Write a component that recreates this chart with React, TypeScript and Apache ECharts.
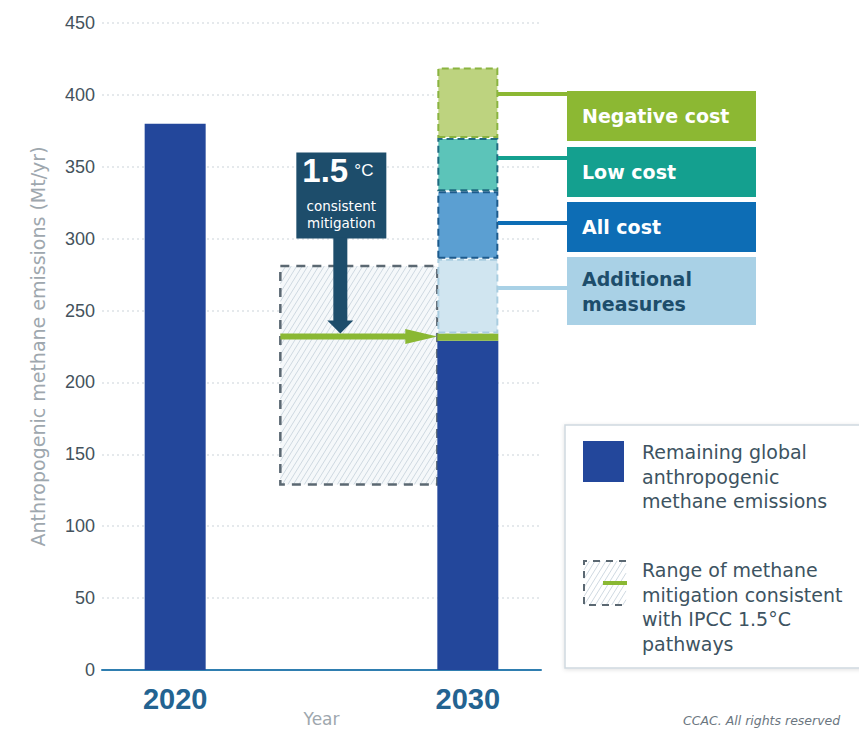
import React, { useEffect, useRef } from "react";
import * as echarts from "echarts";

const years = ["2020", "", "2030"];
const remaining = [380, "-", 229];
const pathwayLevel = ["-", "-", 5];
const additionalMeasures = ["-", "-", 52];
const allCost = ["-", "-", 47];
const lowCost = ["-", "-", 37];
const negativeCost = ["-", "-", 49];
const yMin = 0;
const yMax = 450;
const yStep = 50;
// 1.5°C consistent mitigation range for 2030: [category, low, high, median]
const mitigationRange = [["2030", 129, 281, 232]];

const NUM_FONT = "'Liberation Sans', Arial, Helvetica, sans-serif";
const TXT_FONT = "'DejaVu Sans', Verdana, sans-serif";
const BAR_W = 61;
const GREEN = "#8ab833";
const NAVY = "#1d4d6b";

function hatch(x: number, y: number, w: number, h: number, step: number, k: number) {
  const segs: number[][] = [];
  for (let c = x - h * k; c < x + w; c += step) {
    const t0 = Math.max(0, (x - c) / k);
    const t1 = Math.min(h, (x + w - c) / k);
    if (t1 > t0) segs.push([c + t0 * k, y + h - t0, c + t1 * k, y + h - t1]);
  }
  return segs;
}

function hatchLines(x: number, y: number, w: number, h: number, stroke: string) {
  return hatch(x, y, w, h, 5.5, 0.62).map((s) => ({
    type: "line",
    shape: { x1: s[0], y1: s[1], x2: s[2], y2: s[3] },
    style: { stroke, lineWidth: 0.9 },
    silent: true,
  }));
}

export default function App() {
  const ref = useRef<HTMLDivElement>(null);
  useEffect(() => {
    document.body.style.margin = "0";
    const chart = echarts.init(ref.current!, null, { renderer: "svg" });

    const renderRange = (params: any, api: any) => {
      const idx = api.value(0);
      const lo = api.value(1);
      const hi = api.value(2);
      const mid = api.value(3);
      const [cx, yLo] = api.coord([idx, lo]);
      const yHi = api.coord([idx, hi])[1];
      const yMid = api.coord([idx, mid])[1];
      const right = cx - BAR_W / 2;
      const left = right - 157;
      const w = right - left;
      const h = yLo - yHi;
      const boxL = left + 16;
      const boxT = yMid - 184;
      const boxW = 90;
      const boxH = 86;
      const stemX = boxL + 37;
      const children: any[] = [
        { type: "rect", shape: { x: left, y: yHi, width: w, height: h }, style: { fill: "#f5f8fa" } },
        ...hatchLines(left, yHi, w, h, "#c9d5de"),
        {
          type: "rect",
          shape: { x: left, y: yHi, width: w, height: h },
          style: { fill: "none", stroke: "#5b6872", lineWidth: 2.5, lineDash: [9, 7] },
        },
        // green arrow
        { type: "rect", shape: { x: left, y: yMid - 3, width: w - 28, height: 6 }, style: { fill: GREEN } },
        {
          type: "polygon",
          shape: { points: [[right - 32, yMid - 7.5], [right, yMid], [right - 32, yMid + 7.5]] },
          style: { fill: GREEN },
        },
        // 1.5°C box
        { type: "rect", shape: { x: boxL, y: boxT, width: boxW, height: boxH }, style: { fill: NAVY } },
        { type: "rect", shape: { x: stemX, y: boxT + boxH - 1, width: 14, height: yMid - 15 - (boxT + boxH) + 1 }, style: { fill: NAVY } },
        {
          type: "polygon",
          shape: { points: [[stemX - 6, yMid - 16], [stemX + 20, yMid - 16], [stemX + 7, yMid - 3]] },
          style: { fill: NAVY },
        },
        {
          type: "text",
          style: {
            text: "1.5", x: boxL + 6, y: boxT + 35, fill: "#ffffff",
            fontSize: 33, fontWeight: "bold", fontFamily: NUM_FONT, align: "left", verticalAlign: "bottom",
          },
        },
        {
          type: "text",
          style: {
            text: "°C", x: boxL + 58, y: boxT + 10, fill: "#ffffff",
            fontSize: 17, fontFamily: NUM_FONT, align: "left", verticalAlign: "top",
          },
        },
        {
          type: "text",
          style: {
            text: "consistent", x: boxL + boxW / 2, y: boxT + 54, fill: "#ffffff",
            fontSize: 13.5, fontFamily: TXT_FONT, align: "center", verticalAlign: "middle",
          },
        },
        {
          type: "text",
          style: {
            text: "mitigation", x: boxL + boxW / 2, y: boxT + 71, fill: "#ffffff",
            fontSize: 13.5, fontFamily: TXT_FONT, align: "center", verticalAlign: "middle",
          },
        },
      ];
      return { type: "group", children };
    };

    const segStyle = (fill: string, border: string) => ({
      color: fill,
      borderColor: border,
      borderWidth: 2,
      borderType: [7, 4] as any,
    });

    const labelBox = (y: number, h: number, fill: string, text: string, color: string, lineY: number) => [
      {
        type: "rect",
        shape: { x: 498, y: lineY - 2, width: 70, height: 4 },
        style: { fill },
        z: 5,
      },
      {
        type: "rect",
        shape: { x: 567, y, width: 189, height: h },
        style: { fill },
        z: 5,
      },
      {
        type: "text",
        x: 582,
        y: y + h / 2,
        style: {
          text, fill: color, fontSize: 19, fontWeight: "bold", fontFamily: TXT_FONT,
          verticalAlign: "middle", align: "left", lineHeight: 25,
        },
        z: 6,
      },
    ];

    const legendText = (x: number, y: number, lines: string[]) =>
      lines.map((t, i) => ({
        type: "text",
        x,
        y: y + i * 24.7,
        style: { text: t, fill: "#3d5361", fontSize: 19, fontFamily: TXT_FONT, verticalAlign: "middle", align: "left" },
        z: 7,
      }));

    chart.setOption({
      animation: false,
      grid: { left: 102, right: 318, top: 23, bottom: 63, containLabel: false, outerBoundsMode: "none" },
      xAxis: {
        type: "category",
        data: years,
        name: "Year",
        nameLocation: "middle",
        nameGap: 40,
        nameMoveOverlap: false,
        nameTextStyle: { color: "#9ea7ae", fontSize: 17, fontFamily: TXT_FONT },
        axisLine: { lineStyle: { color: "#2f7eb0", width: 2 } },
        axisTick: { show: false },
        axisLabel: {
          interval: 0,
          margin: 14,
          color: "#236391",
          fontSize: 29,
          fontWeight: "bold",
          fontFamily: NUM_FONT,
        },
        splitLine: { show: false },
      },
      yAxis: {
        type: "value",
        min: yMin,
        max: yMax,
        interval: yStep,
        name: "Anthropogenic methane emissions (Mt/yr)",
        nameLocation: "middle",
        nameRotate: 90,
        nameGap: 55,
        nameMoveOverlap: false,
        nameTextStyle: { color: "#9ea7ae", fontSize: 19, fontFamily: TXT_FONT },
        axisLine: { show: false },
        axisTick: { show: false },
        axisLabel: { color: "#44525c", fontSize: 18, fontFamily: NUM_FONT, margin: 7 },
        splitLine: { lineStyle: { color: "#dde2e6", type: [2, 3], width: 1.5 } },
      },
      series: [
        {
          type: "custom",
          name: "Range of methane mitigation consistent with IPCC 1.5°C pathways",
          data: mitigationRange,
          encode: { x: 0, y: [1, 2, 3] },
          renderItem: renderRange,
          clip: false,
          z: 1,
        },
        {
          type: "bar",
          name: "Remaining global anthropogenic methane emissions",
          stack: "total",
          barWidth: BAR_W,
          data: remaining,
          itemStyle: { color: "#23479b" },
          z: 2,
        },
        {
          type: "bar",
          name: "1.5°C consistent level",
          stack: "total",
          barWidth: BAR_W,
          data: pathwayLevel,
          itemStyle: { color: GREEN },
          z: 2,
        },
        {
          type: "bar",
          name: "Additional measures",
          stack: "total",
          barWidth: BAR_W,
          data: additionalMeasures,
          itemStyle: segStyle("#d0e5f0", "#a9cde0"),
          z: 2,
        },
        {
          type: "bar",
          name: "All cost",
          stack: "total",
          barWidth: BAR_W,
          data: allCost,
          itemStyle: segStyle("#5b9fd2", "#1c5a8c"),
          z: 2,
        },
        {
          type: "bar",
          name: "Low cost",
          stack: "total",
          barWidth: BAR_W,
          data: lowCost,
          itemStyle: segStyle("#5cc4b9", "#1f6b80"),
          z: 2,
        },
        {
          type: "bar",
          name: "Negative cost",
          stack: "total",
          barWidth: BAR_W,
          data: negativeCost,
          itemStyle: segStyle("#bdd37f", "#8ab440"),
          z: 2,
        },
      ],
      graphic: [
        ...labelBox(91, 50, "#8cb833", "Negative cost", "#ffffff", 94),
        ...labelBox(147, 50, "#14a08f", "Low cost", "#ffffff", 158),
        ...labelBox(202, 50, "#0d6db5", "All cost", "#ffffff", 223),
        ...labelBox(257, 68, "#a9d1e6", "Additional\nmeasures", NAVY, 288),
        {
          type: "rect",
          shape: { x: 565, y: 425, width: 320, height: 243 },
          style: { fill: "#ffffff", stroke: "#cfd9e0", lineWidth: 1.5, shadowBlur: 4, shadowColor: "rgba(0,0,0,0.12)", shadowOffsetY: 1 },
          z: 5,
        },
        { type: "rect", shape: { x: 583, y: 441, width: 41, height: 41 }, style: { fill: "#23479b" }, z: 6 },
        ...legendText(642, 452, ["Remaining global", "anthropogenic", "methane emissions"]),
        ...hatchLines(584, 561, 42, 44, "#c9d5de").map((l) => ({ ...l, z: 6 })),
        {
          type: "polyline",
          shape: { points: [[626, 561], [584, 561], [584, 605], [626, 605]] },
          style: { fill: "none", stroke: "#5b6872", lineWidth: 2, lineDash: [7, 6] },
          z: 6,
        },
        { type: "rect", shape: { x: 603, y: 581, width: 24, height: 4 }, style: { fill: GREEN }, z: 6 },
        ...legendText(642, 570, ["Range of methane", "mitigation consistent", "with IPCC 1.5°C", "pathways"]),
        {
          type: "text",
          x: 683,
          y: 720,
          style: {
            text: "CCAC. All rights reserved", fill: "#6b7680", fontSize: 12.5, fontStyle: "italic",
            fontFamily: TXT_FONT, verticalAlign: "middle", align: "left",
          },
          z: 6,
        },
      ],
    });
    return () => chart.dispose();
  }, []);
  return <div ref={ref} style={{ width: 859, height: 733 }} />;
}
